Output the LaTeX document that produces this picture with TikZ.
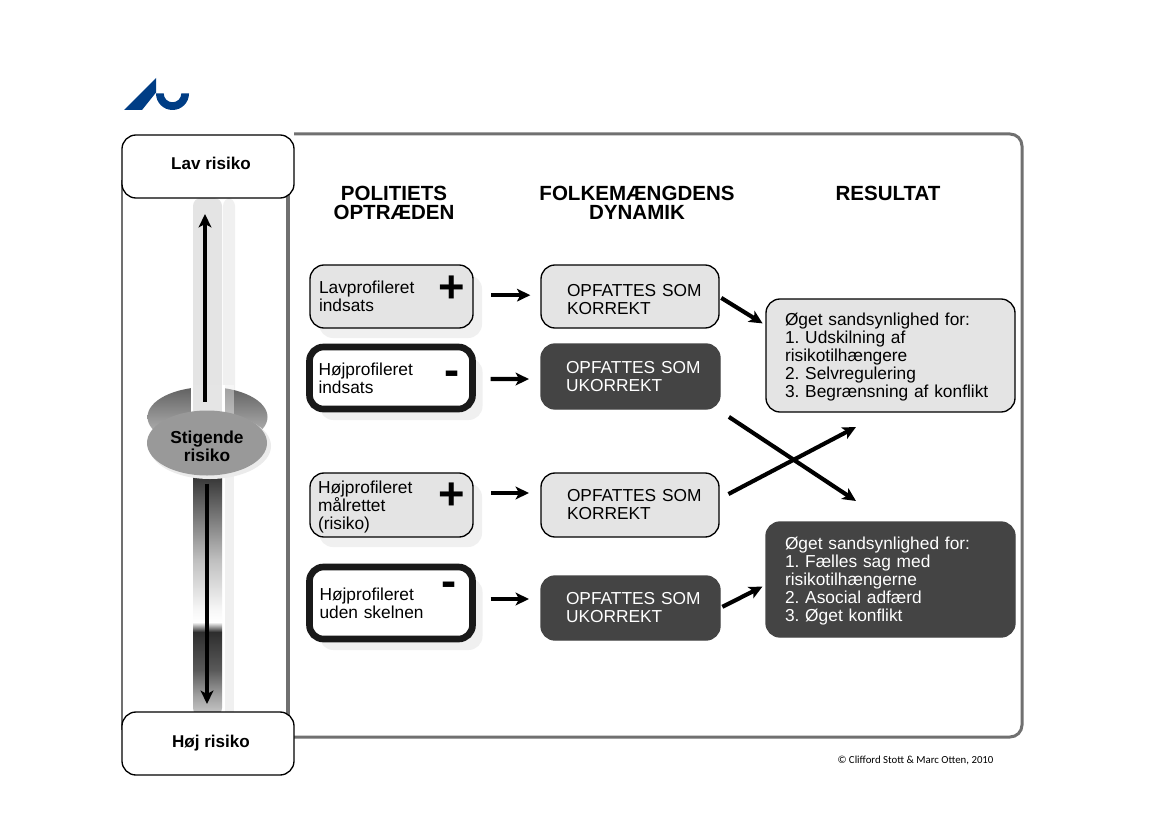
\documentclass[tikz,border=0pt]{standalone}
\usepackage{fontspec}
\setmainfont{Liberation Sans}
\newfontfamily\copyfont{Carlito}
\usetikzlibrary{arrows.meta,shapes.geometric,shadows}
\newdimen\upx \upx=0.75pt
\frenchspacing
\definecolor{aublue}{HTML}{003D85}
\definecolor{framegray}{HTML}{707070}
\definecolor{lightfill}{HTML}{E4E4E4}
\definecolor{darkfill}{HTML}{444444}
\definecolor{shadowfill}{HTML}{F0F0F0}
\pgfdeclareverticalshading{riskbar}{100bp}{
  color(0bp)=(black!20);
  color(25bp)=(black!20);
  color(29.3bp)=(black!38);
  color(34.35bp)=(black!65);
  color(42.07bp)=(black!82);
  color(44.1bp)=(white);
  color(46.5bp)=(black!3);
  color(56.7bp)=(black!25);
  color(73.4bp)=(black!78);
  color(75bp)=(black!78);
  color(100bp)=(black!78)}
\newcommand\lift[1]{\rule{0pt}{#1}}
\tikzset{
  geom/.style n args={5}{at={(#1,#2)},text width=#3\upx,minimum height=#4\upx,
    inner xsep=0pt,inner ysep=0pt,outer sep=0pt,
    execute at begin node={\leftskip=#5\upx\rightskip=0pt plus 1fil\parfillskip=0pt\relax}},
  bodyfont/.style={font=\fontsize{13}{13.5}\selectfont},
  lightbox/.style={draw=black,line width=1pt,rounded corners=10.5pt,fill=lightfill,bodyfont},
  darkbox/.style={draw=darkfill,line width=1pt,rounded corners=10.5pt,fill=darkfill,text=white,bodyfont},
  thickbox/.style={draw=black!90,line width=5pt,rounded corners=10.5pt,fill=white,bodyfont},
  softshadow/.style={general shadow={shadow xshift=#1\upx,shadow yshift=-#1\upx-1\upx,fill=shadowfill}},
  endbox/.style={draw=black,line width=1pt,rounded corners=10.5pt,fill=white,minimum width=172\upx,minimum height=63\upx,outer sep=0pt,
    font=\fontsize{12.8}{14}\selectfont\bfseries},
  head/.style={font=\fontsize{15.4}{14.3}\selectfont\bfseries,align=center,inner sep=0pt},
  sign/.style={font=\fontsize{34}{34}\selectfont\bfseries,inner sep=0pt},
  flow/.style={-{Stealth[length=10pt,width=9.5pt,inset=2.5pt]},line width=3.1pt,black},
  axis/.style={-{Stealth[length=10pt,width=9.5pt,inset=2.5pt]},line width=2.7pt,black},
}
\begin{document}
\begin{tikzpicture}[x=0.75pt,y=-0.75pt]
\useasboundingbox (0,0) rectangle (1169,827);
\fill[white] (0,0) rectangle (1169,827);
% logo
\fill[aublue] (124,110) -- (156,78) -- (156,92.5) -- (142,110) -- cycle;
\fill[aublue] (156,93.5) arc[start angle=180,end angle=0,radius=16.5] -- (181.3,93.5) arc[start angle=0,end angle=180,radius=8.8] -- cycle;
% frame
\draw[framegray,line width=2.25pt,rounded corners=9pt] (294,134) -- (1022,134) -- (1022,737) -- (280,737);
\draw[framegray,line width=3pt] (288,190) -- (288,720);
\draw[framegray,line width=2pt] (122,180) -- (122,730);
% scale bars
\fill[shadowfill,rounded corners=6pt] (223,198) rectangle (235,420);
\fill[shadowfill] (225,470) rectangle (234,712);
\fill[lightfill,rounded corners=6pt] (193,198) rectangle (222,400);
\shade[shading=riskbar,rounded corners=6pt] (193,470) rectangle (222,716);
% disc
\shade[top color=black!62,bottom color=black!22] (207.5,417) ellipse [x radius=60,y radius=30];
\fill[white] (191,385) rectangle (225,414);
\fill[black!10] (193,385) rectangle (222,414);
\fill[white,opacity=.4] (225,385) rectangle (234,414);
\fill[black!8] (210,446) ellipse [x radius=61,y radius=33];
\node[ellipse,fill=black!40,minimum width=120\upx,minimum height=65\upx,inner sep=0pt,outer sep=0pt,
  align=center,font=\fontsize{13}{13.5}\selectfont\bfseries] (disc) at (207,443) {\lift{15pt}Stigende\\risiko};
% end boxes
\node[endbox] (low) at (208,166.5) {\hspace*{6\upx}\raisebox{4.5pt}{Lav risiko}};
\node[endbox] (high) at (208,743.5) {\hspace*{6\upx}Høj risiko};
\draw[axis,shorten <=6.75pt,shorten >=12pt] ([xshift=-1.5pt]disc.north) -- ([xshift=-2.25pt]low.south);
\draw[axis,shorten <=6pt,shorten >=6pt] (disc.south) -- ([xshift=-0.75pt]high.north);
% headers
\node[head] (h1) at (394,203) {POLITIETS\\OPTRÆDEN};
\node[head] (h2) at (637,203) {FOLKEMÆNGDENS\\DYNAMIK};
\node[head] (h3) at (888,193) {RESULTAT};
% column 1
\node[lightbox,softshadow=9,geom={391.5}{296.5}{163}{63}{9}] (b1) {Lavprofileret\\indsats};
\node[thickbox,softshadow=10,geom={391}{378}{163}{62}{9}] (b2) {Højprofileret\\indsats};
\node[lightbox,softshadow=9,geom={391.5}{505}{163}{64}{8}] (b3) {\lift{13pt}Højprofileret\\målrettet\\(risiko)};
\node[thickbox,softshadow=10,geom={391}{603}{163}{72}{10}] (b4) {Højprofileret\\uden skelnen};
\node[sign] (s1) at (452,289.5) {+};
\node[sign] (s2) at (452,378.5) {-};
\node[sign] (s3) at (452,496) {+};
\node[sign] (s4) at (449,589.5) {-};
% column 2
\node[lightbox,geom={630}{296.5}{178}{63}{26}] (k1) {\lift{13pt}OPFATTES SOM\\KORREKT};
\node[darkbox,geom={630.5}{376.5}{179}{65}{25}] (k2) {OPFATTES SOM\\UKORREKT};
\node[lightbox,geom={630}{505}{178}{64}{26}] (k3) {OPFATTES SOM\\KORREKT};
\node[darkbox,geom={630.5}{608}{179}{64}{25}] (k4) {OPFATTES SOM\\UKORREKT};
% column 3
\node[lightbox,geom={890.5}{355.5}{249}{113}{19}] (r1) {\lift{12pt}Øget sandsynlighed for:\\1. Udskilning af\\risikotilhængere\\2. Selvregulering\\3. Begrænsning af konflikt};
\node[darkbox,geom={890.5}{579.5}{249}{115}{19}] (r2) {\lift{11pt}Øget sandsynlighed for:\\1. Fælles sag med\\risikotilhængerne\\2. Asocial adfærd\\3. Øget konflikt};
% connectors
\draw[flow,shorten <=13.5pt,shorten >=8pt] ([yshift=1pt]b1.east) -- ([yshift=1pt]k1.west);
\draw[flow,shorten <=13.5pt,shorten >=9pt] ([yshift=-0.75pt]b2.east) -- ([yshift=-1.9pt]k2.west);
\draw[flow,shorten <=13.5pt,shorten >=9pt] ([yshift=9pt]b3.east) -- ([yshift=9pt]k3.west);
\draw[flow,shorten <=13.5pt,shorten >=9pt] ([yshift=3pt]b4.east) -- ([yshift=6.75pt]k4.west);
\draw[flow,shorten <=2pt,shorten >=3pt] (k1.east) -- ([yshift=22.5pt]r1.west);
\draw[flow,shorten <=2pt,shorten >=3pt] (k4.east) -- ([yshift=-4pt]r2.west);
\coordinate (xa) at (856,501);
\coordinate (xb) at (856,427);
\draw[flow,shorten <=8pt] ([yshift=-1.5pt]k2.south east) -- (xa);
\draw[flow,shorten <=8pt] ([yshift=4.5pt]k3.east) -- (xb);
% credit
\node[inner sep=0pt,font=\copyfont\fontsize{8.1}{10}\selectfont] (credit) at (915.5,760) {© Clifford Stott \& Marc Otten, 2010};
\end{tikzpicture}
\end{document}
